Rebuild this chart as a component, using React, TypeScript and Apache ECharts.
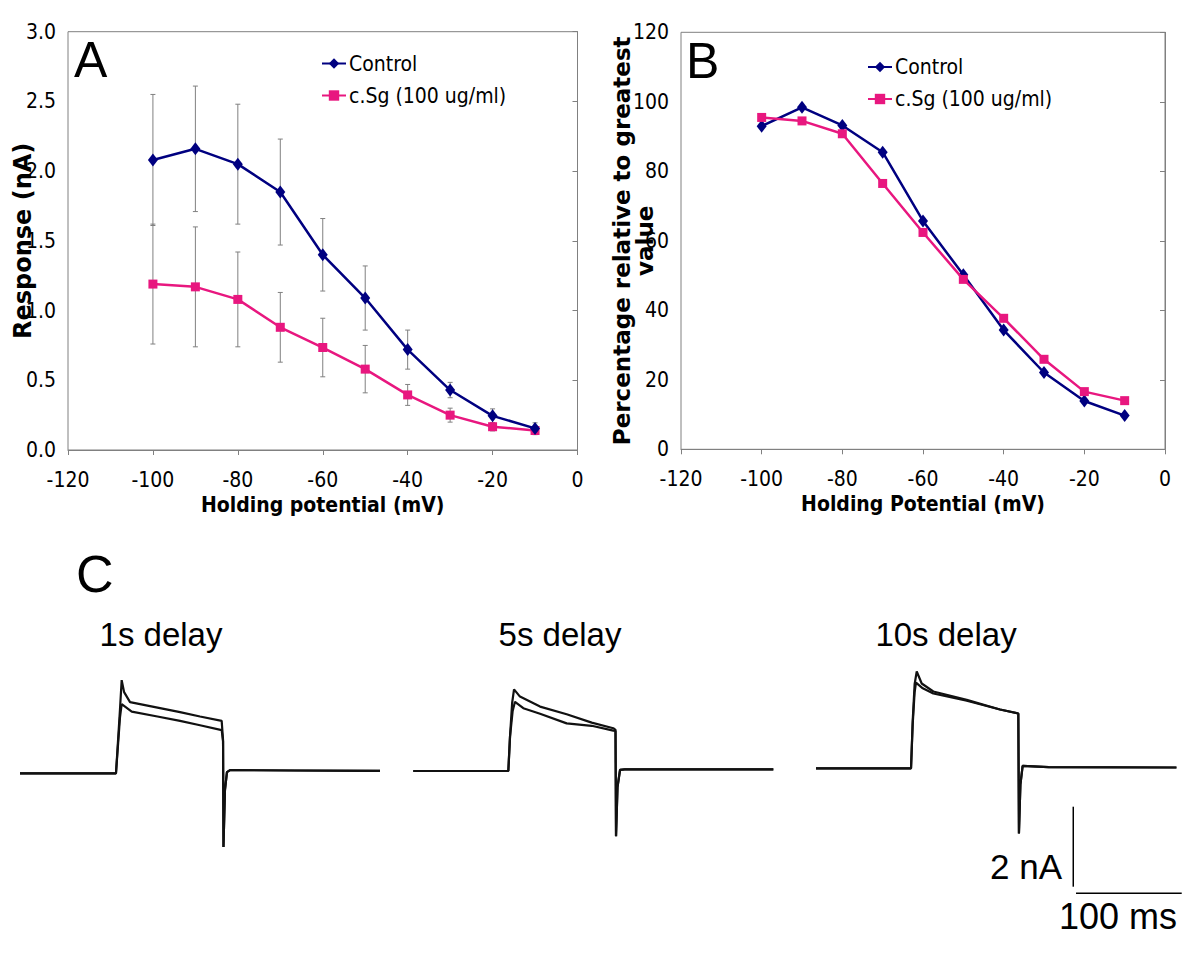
import React, { useEffect, useRef } from "react";
import * as echarts from "echarts";

// ---------- Data ----------
const voltages = [-100, -90, -80, -70, -60, -50, -40, -30, -20, -10];

// Panel A: response (nA)
const controlA = [2.08, 2.16, 2.05, 1.85, 1.40, 1.09, 0.72, 0.43, 0.245, 0.155];
const controlAErr = [0.47, 0.45, 0.43, 0.38, 0.26, 0.23, 0.14, 0.055, 0.05, 0.04];
const csgA = [1.19, 1.17, 1.08, 0.88, 0.735, 0.58, 0.395, 0.25, 0.167, 0.14];
const csgAErr = [0.43, 0.43, 0.34, 0.25, 0.21, 0.17, 0.075, 0.05, 0.03, 0.03];

// Panel B: percentage relative to greatest value
const controlB = [93.0, 98.4, 93.2, 85.5, 65.7, 50.2, 34.3, 22.1, 13.9, 9.7];
const csgB = [95.5, 94.5, 90.8, 76.5, 62.4, 48.9, 37.7, 25.9, 16.6, 14.0];

const xTicksA = { min: -120, max: 0, step: 20 };
const seriesNames = ["Control", "c.Sg (100 ug/ml)"];

// Panel C: current traces [time (ms), current (nA)]
const trace1Upper = [[0, 0], [90.8, 0], [94.6, 1.6], [96.2, 2.33], [98.5, 2.03], [104.1, 1.78], [123, 1.68], [151.4, 1.53], [170.3, 1.42], [190.8, 1.31], [192.1, 0.83], [192.5, -1.84], [193.9, -0.42], [195.8, 0.03], [198.7, 0.08], [260, 0.07], [340.6, 0.06]];
const trace1Lower = [[0, 0], [90.8, 0], [94.6, 1.4], [96.2, 1.73], [105.7, 1.54], [130, 1.42], [151.4, 1.31], [170.3, 1.2], [190.8, 1.08], [192.1, 0.8], [192.5, -1.84], [193.9, -0.42], [195.8, 0.03], [198.7, 0.08], [260, 0.07], [340.6, 0.06]];
const trace2Upper = [[0, 0], [89.9, 0], [91.5, 0.86], [93.5, 1.7], [95.3, 2.04], [100.9, 1.86], [119.9, 1.61], [145.1, 1.42], [168.8, 1.21], [189.2, 1.07], [191.3, 1.03], [191.8, -1.63], [193.2, -0.4], [195.6, 0.03], [200, 0.04], [340.6, 0.04]];
const trace2Lower = [[0, 0], [89.9, 0], [91.5, 0.86], [94, 1.5], [96.2, 1.73], [104.1, 1.57], [119.9, 1.43], [145.1, 1.19], [168.8, 1.13], [189.2, 1.01], [191.3, 1.0], [191.8, -1.63], [193.2, -0.4], [195.6, 0.03], [200, 0.04], [340.6, 0.04]];
const trace3Upper = [[0, 0], [89.9, 0], [91.5, 1.2], [93.3, 2.1], [95.3, 2.42], [100, 2.12], [111, 1.92], [142.6, 1.71], [174.1, 1.47], [191.4, 1.37], [192, -1.63], [193.4, -0.4], [195.5, 0.06], [220, 0.03], [341, 0.02]];
const trace3Lower = [[0, 0], [89.9, 0], [91.5, 1.1], [93.3, 1.9], [94.6, 2.14], [101, 2.0], [111, 1.87], [142.6, 1.69], [174.1, 1.47], [191.4, 1.37], [192, -1.63], [193.4, -0.4], [195.5, 0.06], [220, 0.03], [341, 0.02]];

// Scale bar: 100 ms and 2 nA, anchored in panel C3 coordinates
const scaleBarOrigin = { t: 243.4, i: -0.96 };
const scaleBarTime = 100; // ms
const scaleBarCurrent = 2; // nA
const scaleBarHOrigin = { t: 246, i: -3.125 };

const traceTitles = ["1s delay", "5s delay", "10s delay"];

// ---------- Helpers ----------
const NARROW = "'Liberation Sans Narrow', 'Arial Narrow', 'DejaVu Sans Condensed', sans-serif";
const SANS = "'Liberation Sans', Arial, sans-serif";
const NAVY = "#000080";
const PINK = "#E8177F";
const GRAY = "#808080";

const pairs = (xs: number[], ys: number[]) => xs.map((x, i) => [x, ys[i]]);
const errData = (xs: number[], ys: number[], es: number[]) =>
  xs.map((x, i) => [x, ys[i] - es[i], ys[i] + es[i]]);

function renderErr(_params: any, api: any) {
  const x = api.value(0);
  const lo = api.coord([x, api.value(1)]);
  const hi = api.coord([x, api.value(2)]);
  const w = 2.5;
  const style = { stroke: GRAY, lineWidth: 1 };
  return {
    type: "group",
    children: [
      { type: "line", shape: { x1: lo[0], y1: lo[1], x2: hi[0], y2: hi[1] }, style },
      { type: "line", shape: { x1: hi[0] - w, y1: hi[1], x2: hi[0] + w, y2: hi[1] }, style },
      { type: "line", shape: { x1: lo[0] - w, y1: lo[1], x2: lo[0] + w, y2: lo[1] }, style },
    ],
  };
}

function xAxisPlot(grid: number, name: string) {
  return {
    gridIndex: grid,
    type: "value",
    min: xTicksA.min,
    max: xTicksA.max,
    interval: xTicksA.step,
    axisLine: { lineStyle: { color: GRAY, width: 1 } },
    axisTick: { show: true, inside: false, length: 5, lineStyle: { color: GRAY } },
    axisLabel: { fontSize: 21, margin: 19, color: "#000", fontFamily: NARROW },
    splitLine: { show: false },
    name,
    nameLocation: "middle",
    nameGap: 44,
    nameMoveOverlap: false,
    nameTextStyle: { fontSize: 21, fontWeight: "bold", fontFamily: NARROW, color: "#000" },
  };
}

function yAxisPlot(grid: number, min: number, max: number, interval: number, name: string, fmt: any, nameGap: number, nameSize: number) {
  return {
    gridIndex: grid,
    type: "value",
    min,
    max,
    interval,
    axisLine: { show: true, lineStyle: { color: GRAY, width: 1 } },
    axisTick: { show: true, inside: false, length: 5, lineStyle: { color: GRAY } },
    axisLabel: { fontSize: 21, margin: 12, color: "#000", fontFamily: NARROW, formatter: fmt },
    splitLine: { show: false },
    name,
    nameLocation: "middle",
    nameGap,
    nameMoveOverlap: false,
    nameTextStyle: {
      fontSize: nameSize,
      fontWeight: "bold",
      fontFamily: "'DejaVu Sans', Verdana, sans-serif",
      color: "#000",
      lineHeight: 23,
    },
  };
}

const hiddenX = (grid: number) => ({ gridIndex: grid, type: "value", min: 0, max: 360, show: false, splitLine: { show: false } });
const hiddenY = (grid: number) => ({ gridIndex: grid, type: "value", min: -3.5, max: 3, show: false, splitLine: { show: false } });

function traceSeries(data: number[][], xi: number) {
  return {
    type: "line",
    xAxisIndex: xi,
    yAxisIndex: xi,
    data,
    showSymbol: false,
    symbol: "none",
    lineStyle: { color: "#111", width: 2.2 },
    silent: true,
    z: 3,
  };
}

const legendBase = {
  data: seriesNames,
  orient: "vertical",
  padding: 0,
  itemWidth: 24,
  itemHeight: 13,
  itemGap: 11,
  textStyle: { fontSize: 21, fontFamily: NARROW, color: "#000", padding: [0, 0, 0, -2] },
  selectedMode: false,
};

export default function App() {
  const ref = useRef<HTMLDivElement>(null);

  useEffect(() => {
    if (!ref.current) return;
    const chart = echarts.init(ref.current, undefined, { renderer: "svg" });

    const TRACE_PX_PER_MS = 1.057;
    const TRACE_W = 360 * TRACE_PX_PER_MS;
    const TRACE_H = 6.5 * 40;

    const option: any = {
      animation: false,
      backgroundColor: "#fff",
      grid: [
        { left: 68, top: 31.7, width: 509.5, height: 418.3, show: true, borderColor: GRAY, borderWidth: 1, backgroundColor: "transparent" },
        { left: 681, top: 32.3, width: 484, height: 417, show: true, borderColor: GRAY, borderWidth: 1, backgroundColor: "transparent" },
        { left: 20, top: 773.3 - 120, width: TRACE_W, height: TRACE_H },
        { left: 413.3, top: 771 - 120, width: TRACE_W, height: TRACE_H },
        { left: 816, top: 768.3 - 120, width: TRACE_W, height: TRACE_H },
      ],
      legend: [
        { ...legendBase, left: 321, top: 53 },
        { ...legendBase, left: 867, top: 56.5 },
      ],
      xAxis: [
        xAxisPlot(0, "Holding potential (mV)"),
        xAxisPlot(1, "Holding Potential (mV)"),
        hiddenX(2),
        hiddenX(3),
        hiddenX(4),
      ],
      yAxis: [
        yAxisPlot(0, 0, 3, 0.5, "Response (nA)", (v: number) => v.toFixed(1), 34, 24),
        yAxisPlot(1, 0, 120, 20, "Percentage relative to greatest\nvalue", (v: number) => String(v), 25, 23),
        hiddenY(2),
        hiddenY(3),
        hiddenY(4),
      ],
      series: [
        {
          type: "custom",
          name: "Control err",
          xAxisIndex: 0,
          yAxisIndex: 0,
          data: errData(voltages, controlA, controlAErr),
          renderItem: renderErr,
          encode: { x: 0, y: [1, 2] },
          silent: true,
          z: 1,
        },
        {
          type: "custom",
          name: "cSg err",
          xAxisIndex: 0,
          yAxisIndex: 0,
          data: errData(voltages, csgA, csgAErr),
          renderItem: renderErr,
          encode: { x: 0, y: [1, 2] },
          silent: true,
          z: 1,
        },
        {
          type: "line",
          name: seriesNames[0],
          xAxisIndex: 0,
          yAxisIndex: 0,
          data: pairs(voltages, controlA),
          symbol: "diamond",
          symbolSize: [10, 13],
          lineStyle: { color: NAVY, width: 2.5 },
          itemStyle: { color: NAVY },
          z: 4,
        },
        {
          type: "line",
          name: seriesNames[1],
          xAxisIndex: 0,
          yAxisIndex: 0,
          data: pairs(voltages, csgA),
          symbol: "rect",
          symbolSize: 9,
          lineStyle: { color: PINK, width: 2.5 },
          itemStyle: { color: PINK },
          z: 3,
        },
        {
          type: "line",
          name: seriesNames[0],
          xAxisIndex: 1,
          yAxisIndex: 1,
          data: pairs(voltages, controlB),
          symbol: "diamond",
          symbolSize: [10, 13],
          lineStyle: { color: NAVY, width: 2.5 },
          itemStyle: { color: NAVY },
          z: 3,
        },
        {
          type: "line",
          name: seriesNames[1],
          xAxisIndex: 1,
          yAxisIndex: 1,
          data: pairs(voltages, csgB),
          symbol: "rect",
          symbolSize: 9,
          lineStyle: { color: PINK, width: 2.5 },
          itemStyle: { color: PINK },
          z: 4,
        },
        traceSeries(trace1Lower, 2),
        traceSeries(trace1Upper, 2),
        traceSeries(trace2Lower, 3),
        traceSeries(trace2Upper, 3),
        traceSeries(trace3Lower, 4),
        traceSeries(trace3Upper, 4),
        {
          type: "line",
          xAxisIndex: 4,
          yAxisIndex: 4,
          data: [
            [scaleBarOrigin.t, scaleBarOrigin.i],
            [scaleBarOrigin.t, scaleBarOrigin.i - scaleBarCurrent],
          ],
          showSymbol: false,
          symbol: "none",
          lineStyle: { color: "#000", width: 1.5 },
          silent: true,
        },
        {
          type: "line",
          xAxisIndex: 4,
          yAxisIndex: 4,
          data: [
            [scaleBarHOrigin.t, scaleBarHOrigin.i],
            [scaleBarHOrigin.t + scaleBarTime, scaleBarHOrigin.i],
          ],
          showSymbol: false,
          symbol: "none",
          lineStyle: { color: "#000", width: 1.5 },
          silent: true,
        },
      ],
      graphic: [
        { type: "text", x: 74, y: 60, style: { text: "A", font: `50px ${SANS}`, fill: "#000", verticalAlign: "middle" } },
        { type: "text", x: 686, y: 61, style: { text: "B", font: `50px ${SANS}`, fill: "#000", verticalAlign: "middle" } },
        { type: "text", x: 76, y: 574, style: { text: "C", font: `52px ${SANS}`, fill: "#000", verticalAlign: "middle" } },
        { type: "text", x: 161, y: 634, style: { text: traceTitles[0], font: `33px ${SANS}`, fill: "#000", align: "center", verticalAlign: "middle" } },
        { type: "text", x: 560, y: 634, style: { text: traceTitles[1], font: `33px ${SANS}`, fill: "#000", align: "center", verticalAlign: "middle" } },
        { type: "text", x: 946, y: 634, style: { text: traceTitles[2], font: `33px ${SANS}`, fill: "#000", align: "center", verticalAlign: "middle" } },
        { type: "text", x: 1062, y: 866, style: { text: `${scaleBarCurrent} nA`, font: `35px ${SANS}`, fill: "#000", align: "right", verticalAlign: "middle" } },
        { type: "text", x: 1059, y: 916, style: { text: `${scaleBarTime} ms`, font: `36px ${SANS}`, fill: "#000", align: "left", verticalAlign: "middle" } },
      ],
    };

    chart.setOption(option);
    return () => chart.dispose();
  }, []);

  return (
    <div
      ref={ref}
      style={{ position: "absolute", left: 0, top: 0, width: 1200, height: 953, background: "#fff" }}
    />
  );
}
